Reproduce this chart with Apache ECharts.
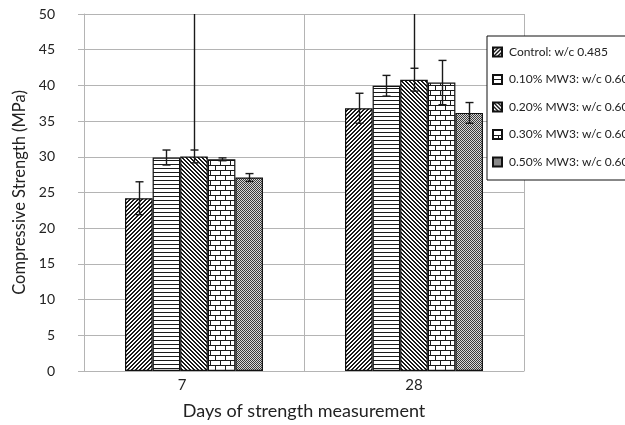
<!DOCTYPE html>
<html>
<head>
<meta charset="utf-8">
<script src="https://cdn.jsdelivr.net/npm/echarts@6/dist/echarts.min.js"></script>
<style>
  html, body { margin: 0; padding: 0; background: #fff; }
  #chart { width: 625px; height: 425px; }
</style>
</head>
<body>
<div id="chart"></div>
<script>
// Curing ages (days)
const days = ['7', '28'];

// Mix names
const mixNames = [
  'Control: w/c 0.485',
  '0.10% MW3: w/c 0.60',
  '0.20% MW3: w/c 0.60',
  '0.30% MW3: w/c 0.60',
  '0.50% MW3: w/c 0.60'
];

// Mean compressive strength (MPa) at 7 and 28 days
const control = [24.2, 36.8];
const mw010 = [29.9, 39.95];
const mw020 = [30.05, 40.8];
const mw030 = [29.65, 40.4];
const mw050 = [27.1, 36.15];

// Standard deviation (MPa)
const controlErr = [2.3, 2.1];
const mw010Err = [1.05, 1.45];
const mw020Err = [0.9, 1.6];
const mw030Err = [0.2, 3.1];
const mw050Err = [0.55, 1.45];

// The 0.20% mix whisker stem runs past the top of the scale
const mw020StemTop = [50, 50];

// Y axis ticks
const yMin = 0, yMax = 50, yStep = 5;

const means = [control, mw010, mw020, mw030, mw050];
const errs = [controlErr, mw010Err, mw020Err, mw030Err, mw050Err];
const stems = [null, null, mw020StemTop, null, null];

// ---- fill patterns -------------------------------------------------------
function pattern(w, h, paint) {
  const c = document.createElement('canvas');
  c.width = w; c.height = h;
  const ctx = c.getContext('2d');
  ctx.fillStyle = '#ffffff';
  ctx.fillRect(0, 0, w, h);
  paint(ctx, w, h);
  return { image: c, repeat: 'repeat' };
}
const ink = '#1a1a1a';
const fills = [
  // wide upward diagonal
  pattern(4, 4, (ctx, w, h) => {
    ctx.fillStyle = ink;
    for (let y = 0; y < h; y++) for (let x = 0; x < w; x++)
      if ((x + y) % 4 < 2) ctx.fillRect(x, y, 1, 1);
  }),
  // horizontal lines
  pattern(4, 4, (ctx) => {
    ctx.fillStyle = ink;
    ctx.fillRect(0, 0, 4, 1);
  }),
  // wide downward diagonal
  pattern(4, 4, (ctx, w, h) => {
    ctx.fillStyle = ink;
    for (let y = 0; y < h; y++) for (let x = 0; x < w; x++)
      if ((x - y + 8) % 4 < 2) ctx.fillRect(x, y, 1, 1);
  }),
  // horizontal brick
  pattern(10, 10, (ctx) => {
    ctx.fillStyle = ink;
    ctx.fillRect(0, 0, 10, 1);
    ctx.fillRect(0, 5, 10, 1);
    ctx.fillRect(0, 1, 1, 4);
    ctx.fillRect(5, 6, 1, 4);
  }),
  // fine dotted grey
  pattern(2, 2, (ctx) => {
    ctx.fillStyle = '#3a3a3a';
    ctx.fillRect(0, 0, 1, 1);
    ctx.fillRect(1, 1, 1, 1);
    ctx.fillStyle = '#d8d8d8';
    ctx.fillRect(1, 0, 1, 1);
    ctx.fillRect(0, 1, 1, 1);
  })
];

const CATEGORY_GAP = 0.373;
const nSeries = means.length;

const barSeries = means.map((vals, i) => ({
  name: mixNames[i],
  type: 'bar',
  data: vals,
  barGap: '0%',
  barCategoryGap: (CATEGORY_GAP * 100) + '%',
  itemStyle: { color: fills[i], borderColor: '#111', borderWidth: 1.2 },
  emphasis: { disabled: true },
  z: 2
}));

// error-bar records: [dayIndex, seriesIndex, mean, sd, stemTop]
const errData = [];
means.forEach((vals, s) => {
  vals.forEach((v, d) => {
    errData.push([d, s, v, errs[s][d], stems[s] ? stems[s][d] : v + errs[s][d]]);
  });
});

const errorSeries = {
  type: 'custom',
  data: errData,
  clip: true,
  z: 5,
  silent: true,
  encode: { x: 0, y: 2 },
  renderItem: function (params, api) {
    const d = api.value(0), s = api.value(1), m = api.value(2), e = api.value(3), top = api.value(4);
    const band = api.size([1, 0])[0];
    const bw = band * (1 - CATEGORY_GAP) / nSeries;
    const cx = api.coord([d, 0])[0] + (s - (nSeries - 1) / 2) * bw;
    const x = Math.round(cx) + 0.5;
    const yHi = api.coord([d, m + e])[1];
    const yLo = api.coord([d, m - e])[1];
    const yTop = api.coord([d, Math.max(top, m + e)])[1];
    const half = 4;
    const style = { stroke: '#1a1a1a', lineWidth: 1.4, fill: null };
    return {
      type: 'group',
      children: [
        { type: 'line', shape: { x1: x, y1: yTop, x2: x, y2: yLo }, style: style },
        { type: 'line', shape: { x1: x - half, y1: yHi, x2: x + half, y2: yHi }, style: style },
        { type: 'line', shape: { x1: x - half, y1: yLo, x2: x + half, y2: yLo }, style: style }
      ]
    };
  }
};

const font = 'Lato, "Liberation Sans", sans-serif';
const gridGray = '#b4b4b4';

const chart = echarts.init(document.getElementById('chart'), null, { renderer: 'canvas' });
chart.setOption({
  animation: false,
  backgroundColor: '#ffffff',
  textStyle: { fontFamily: font },
  grid: { left: 84, top: 14, width: 440, height: 360, containLabel: false },
  legend: {
    data: mixNames,
    orient: 'vertical',
    left: 487,
    top: 36,
    icon: 'rect',
    itemWidth: 9,
    itemHeight: 9,
    itemGap: 13.5,
    padding: [9, 40, 11, 5],
    backgroundColor: '#ffffff',
    borderColor: '#111111',
    borderWidth: 1,
    borderRadius: 0,
    selectedMode: false,
    textStyle: { fontFamily: font, fontSize: 12, color: '#222', lineHeight: 14, padding: [0, 0, 0, 2] },
    z: 10
  },
  xAxis: {
    type: 'category',
    data: days,
    boundaryGap: true,
    name: 'Days of strength measurement',
    nameLocation: 'middle',
    nameGap: 31,
    nameTextStyle: { fontFamily: font, fontSize: 18, color: '#222' },
    axisLine: { show: true, lineStyle: { color: gridGray, width: 1 } },
    axisTick: { show: false },
    splitLine: { show: true, lineStyle: { color: gridGray, width: 1 } },
    axisLabel: {
      fontFamily: font, fontSize: 15, color: '#222', margin: 7,
      formatter: function (v) { return v === '7' ? '{shift|' + v + '}' : v; },
      rich: { shift: { fontFamily: font, fontSize: 15, color: '#222', padding: [0, 24, 0, 0] } }
    }
  },
  yAxis: {
    type: 'value',
    min: yMin,
    max: yMax,
    interval: yStep,
    name: 'Compressive Strength (MPa)',
    nameLocation: 'middle',
    nameGap: 56,
    nameTextStyle: { fontFamily: font, fontSize: 16.5, color: '#222' },
    axisLine: { show: true, lineStyle: { color: gridGray, width: 1 } },
    axisTick: { show: true, length: 6, lineStyle: { color: gridGray } },
    splitLine: { show: true, lineStyle: { color: gridGray, width: 1 } },
    axisLabel: { fontFamily: font, fontSize: 14, color: '#222', margin: 29 }
  },
  series: barSeries.concat([errorSeries])
});
</script>
</body>
</html>
